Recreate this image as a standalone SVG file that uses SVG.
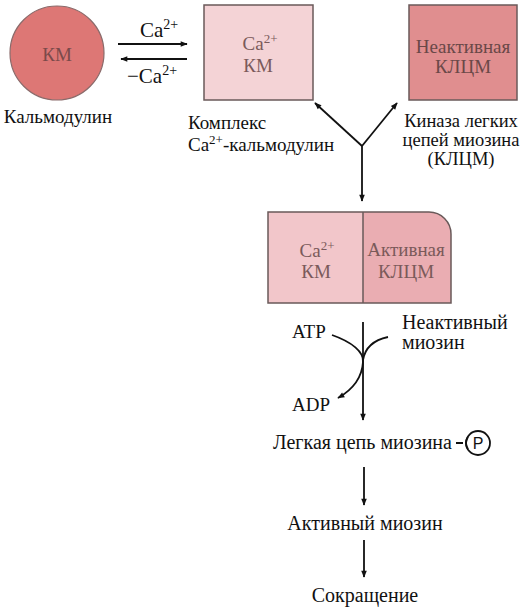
<svg xmlns="http://www.w3.org/2000/svg" width="526" height="611" viewBox="0 0 526 611">
<defs>
<marker id="ah" viewBox="0 0 10 10" refX="9" refY="5" markerWidth="9" markerHeight="7" markerUnits="userSpaceOnUse" orient="auto"><path d="M0,1 L10,5 L0,9 Z" fill="#111"/></marker>
<style>
.ser{font-family:"Liberation Serif","Times New Roman",serif;font-size:20px;fill:#111}
.nt{font-family:"Liberation Serif","Times New Roman",serif;font-size:19px;fill:#7a5a5a;text-anchor:middle}
.ln{stroke:#111;stroke-width:1.8;fill:none}
.box{stroke:#6a5a5a;stroke-width:1.5}
</style>
</defs>
<rect width="526" height="611" fill="#fff"/>
<g id="calmodulin">
<circle cx="57" cy="53" r="47" fill="#dd7775" stroke="#8a6a6a" stroke-width="1.2"/>
<text class="nt" x="57" y="61" style="fill:#7a4a4a">КМ</text>
<text class="ser" x="58" y="123" text-anchor="middle" style="font-size:19px">Кальмодулин</text>
</g>
<g id="ca-km">
<rect class="box" x="204" y="5" width="109" height="95" fill="#f4d3d6"/>
<text class="nt" x="260" y="50">Ca<tspan font-size="13" dy="-7">2+</tspan></text>
<text class="nt" x="258" y="72">КМ</text>
</g>
<g id="inactive-klcm">
<rect class="box" x="409" y="5" width="108" height="95" fill="#e08e8f"/>
<text class="nt" x="463" y="53" style="fill:#6a4848">Неактивная</text>
<text class="nt" x="463" y="73" style="fill:#6a4848">КЛЦМ</text>
</g>
<g id="active-complex">
<rect x="268" y="212" width="95" height="91" fill="#f2c6ca"/>
<path d="M363,212 H429 A22,22 0 0 1 451,234 V303 H363 Z" fill="#eaadb2"/>
<path class="box" d="M268,212 H429 A22,22 0 0 1 451,234 V303 H268 Z M363,212 V303" fill="none"/>
<text class="nt" x="317" y="257">Ca<tspan font-size="13" dy="-7">2+</tspan></text>
<text class="nt" x="316" y="278">КМ</text>
<text class="nt" x="406" y="256">Активная</text>
<text class="nt" x="406" y="278">КЛЦМ</text>
</g>
<g id="labels">
<text class="ser" x="140" y="37" style="font-size:21px">Ca<tspan font-size="14" dy="-8">2+</tspan></text>
<text class="ser" x="127" y="83" style="font-size:21px">−Ca<tspan font-size="14" dy="-8">2+</tspan></text>
<text class="ser" x="188" y="129" style="font-size:19px">Комплекс</text>
<text class="ser" x="188" y="151" style="font-size:19px">Ca<tspan font-size="13" dy="-7">2+</tspan><tspan dy="7">-кальмодулин</tspan></text>
<text class="ser" x="461" y="127" text-anchor="middle" style="font-size:18.5px">Киназа легких</text>
<text class="ser" x="461" y="146" text-anchor="middle" style="font-size:18.5px">цепей миозина</text>
<text class="ser" x="461" y="165" text-anchor="middle" style="font-size:18.5px">(КЛЦМ)</text>
<text class="ser" x="292" y="338" style="font-size:19px">ATP</text>
<text class="ser" x="292" y="411" style="font-size:19px">ADP</text>
<text class="ser" x="402" y="329">Неактивный</text>
<text class="ser" x="402" y="349">миозин</text>
<text class="ser" x="273" y="449">Легкая цепь миозина</text>
<text class="ser" x="365" y="530" text-anchor="middle">Активный миозин</text>
<text class="ser" x="365" y="602" text-anchor="middle">Сокращение</text>
</g>
<g id="phosphate">
<circle cx="478" cy="443" r="12" fill="#fff" stroke="#111" stroke-width="1.8"/>
<text x="478" y="449" text-anchor="middle" style="font-family:'Liberation Sans',Arial,sans-serif;font-size:16px;fill:#111">P</text>
</g>
<g id="connectors">
<line class="ln" x1="118" y1="44" x2="187" y2="44" marker-end="url(#ah)"/>
<line class="ln" x1="187" y1="59" x2="121" y2="59" marker-end="url(#ah)"/>
<line class="ln" x1="362" y1="146" x2="315" y2="103" marker-end="url(#ah)"/>
<line class="ln" x1="362" y1="146" x2="397" y2="103" marker-end="url(#ah)"/>
<line class="ln" x1="362" y1="146" x2="362" y2="201" marker-end="url(#ah)"/>
<line class="ln" x1="363" y1="322" x2="363" y2="420" marker-end="url(#ah)"/>
<path class="ln" d="M332,335 C352,342 364,352 363,362 C362,378 352,390 338,398" marker-end="url(#ah)"/>
<path class="ln" d="M388,337 C374,340 365,348 363,360"/>
<path class="ln" d="M456,443 H463 M468,437 Q464,443 468,449"/>
<line class="ln" x1="364" y1="467" x2="364" y2="505" marker-end="url(#ah)"/>
<line class="ln" x1="364" y1="540" x2="364" y2="577" marker-end="url(#ah)"/>
</g>
</svg>
